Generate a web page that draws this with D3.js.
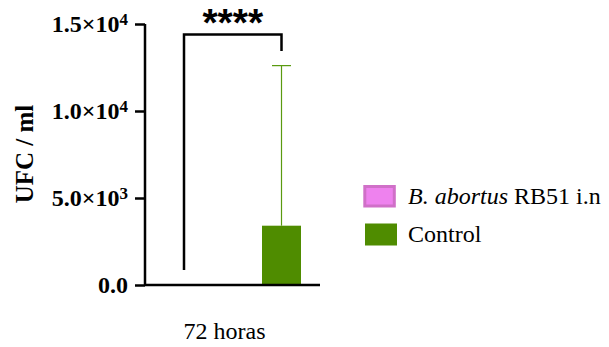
<!DOCTYPE html>
<html><head><meta charset="utf-8">
<script src="https://cdn.jsdelivr.net/npm/d3@7"></script>
<style>body{margin:0;background:#fff}svg{display:block}</style>
</head><body><svg id="c" width="609" height="347"></svg>
<script>
const categories = ["B. abortus RB51 i.n", "Control"];
const means = [0, 3408];
const errors = [0, 9200];
const yTicks = [0, 5000, 10000, 15000];
const tickLabels = [["0.0",""],["5.0×10","3"],["1.0×10","4"],["1.5×10","4"]];
const colors = ["#EE82EE", "#4F8C00"];
const strokes = ["#D070C8", "#5A9A10"];
const xLabel = "72 horas";
const yLabel = "UFC / ml";
const sigText = "****";
const SERIF = "'Liberation Serif','Times New Roman',serif";

const svg = d3.select("#c");
const y = d3.scaleLinear().domain([0, 15000]).range([285, 24]);
const x = d3.scaleBand().domain(categories).range([135.25, 330.25]).paddingInner(0.6).paddingOuter(0.3);

// bars
svg.selectAll("rect.bar").data(categories).enter().append("rect")
  .attr("x", d => x(d)).attr("width", x.bandwidth())
  .attr("y", (d,i) => y(means[i])).attr("height", (d,i) => y(0) - y(means[i]))
  .attr("fill", (d,i) => colors[i]);

// error bars
categories.forEach((d,i) => {
  if (errors[i] <= 0) return;
  const cx = x(d) + x.bandwidth()/2;
  svg.append("line").attr("x1", cx).attr("x2", cx).attr("y1", y(means[i])).attr("y2", y(means[i]+errors[i]))
    .attr("stroke", strokes[i]).attr("stroke-width", 1.2);
  svg.append("line").attr("x1", cx-9.5).attr("x2", cx+9.5).attr("y1", y(means[i]+errors[i])).attr("y2", y(means[i]+errors[i]))
    .attr("stroke", strokes[i]).attr("stroke-width", 1.2);
});

// axes
const yAxis = svg.append("g").attr("transform", "translate(145,0)")
  .call(d3.axisLeft(y).tickValues(yTicks).tickSize(10).tickPadding(7));
yAxis.attr("font-family", SERIF);
yAxis.select(".domain").attr("stroke-width", 2.5).attr("d", `M0,${y(15000)}V${y(0)}`);
yAxis.selectAll(".tick line").attr("stroke-width", 2.5);
yAxis.selectAll(".tick text").each(function(d){
  const t = d3.select(this).text("").attr("font-size", 24).attr("font-weight", "bold")
    .attr("font-family", SERIF).attr("fill", "#000").attr("dy", "0.3em");
  const idx = yTicks.indexOf(d);
  t.append("tspan").text(tickLabels[idx][0]);
  if (tickLabels[idx][1]) t.append("tspan").attr("dy", "-0.42em").attr("font-size", 17).text(tickLabels[idx][1]);
});
svg.append("line").attr("x1", 145).attr("x2", 320).attr("y1", y(0)).attr("y2", y(0))
  .attr("stroke", "#000").attr("stroke-width", 2.5);

// significance bracket
const xl = x(categories[0]) + x.bandwidth()/2, xr = x(categories[1]) + x.bandwidth()/2;
svg.append("path").attr("d", `M${xl},${y(0)-15}V34.5H${xr}V51`)
  .attr("fill", "none").attr("stroke", "#000").attr("stroke-width", 2.5);
svg.append("text").attr("x", (xl+xr)/2).attr("y", 36).attr("text-anchor", "middle")
  .attr("font-size", 39).attr("font-weight", "bold").attr("font-family", "'Liberation Sans',Arial,sans-serif").text(sigText);

// labels
svg.append("text").attr("x", 224.5).attr("y", 339).attr("text-anchor", "middle")
  .attr("font-family", SERIF).attr("font-size", 24).text(xLabel);
svg.append("text").attr("transform", "translate(33,154) rotate(-90)").attr("text-anchor", "middle")
  .attr("font-family", SERIF).attr("font-size", 25).attr("font-weight", "bold").text(yLabel);

// legend
const lg = svg.append("g");
categories.forEach((d,i) => {
  const yy = 185 + i*38;
  lg.append("rect").attr("x", i===0 ? 364.8 : 365).attr("y", yy + (i===0?1.5:0.5)).attr("width", i===0?29.5:32).attr("height", i===0?19.5:22)
    .attr("fill", colors[i]).attr("stroke", i===0 ? strokes[i] : "none").attr("stroke-width", 3);
  const t = lg.append("text").attr("x", 408).attr("y", yy + 19).attr("font-family", SERIF).attr("font-size", 24);
  if (i===0) {
    t.append("tspan").attr("font-style", "italic").text("B. abortus");
    t.append("tspan").text(" RB51 i.n");
  } else t.text(d);
});
</script></body></html>
